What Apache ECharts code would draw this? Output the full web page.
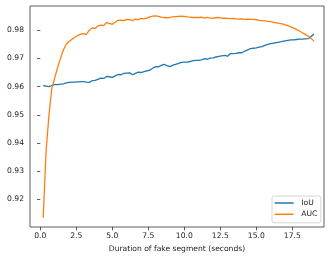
<!DOCTYPE html>
<html>
<head>
<meta charset="utf-8">
<script src="https://cdn.jsdelivr.net/npm/echarts@6/dist/echarts.min.js"></script>
<style>html,body{margin:0;padding:0;background:#fff}#c{width:332px;height:258px}</style>
</head>
<body>
<div id="c"></div>
<script>
const durations = [0.2,0.4,0.6,0.8,1.0,1.2,1.4,1.6,1.8,2.0,2.2,2.4,2.6,2.8,3.0,3.2,3.4,3.6,3.8,4.0,
4.2,4.4,4.6,4.8,5.0,5.2,5.4,5.6,5.8,6.0,6.2,6.4,6.6,6.8,7.0,7.2,7.4,7.6,7.8,8.0,
8.2,8.4,8.6,8.8,9.0,9.2,9.4,9.6,9.8,10.0,10.2,10.4,10.6,10.8,11.0,11.2,11.4,11.6,11.8,12.0,
12.2,12.4,12.6,12.8,13.0,13.2,13.4,13.6,13.8,14.0,14.2,14.4,14.6,14.8,15.0,15.2,15.4,15.6,15.8,16.0,
16.2,16.4,16.6,16.8,17.0,17.2,17.4,17.6,17.8,18.0,18.2,18.4,18.6,18.8,19.0];
const iou = [0.9604,0.9602,0.9600,0.9604,0.9607,0.9607,0.9609,0.9610,0.9613,0.9615,
0.9616,0.9616,0.9617,0.9618,0.9618,0.9616,0.9615,0.9621,0.9622,0.9626,
0.9630,0.9629,0.9636,0.9635,0.9633,0.9638,0.9643,0.9642,0.9647,0.9648,
0.9649,0.9642,0.9647,0.9651,0.9650,0.9653,0.9656,0.9658,0.9665,0.9671,
0.9670,0.9675,0.9679,0.9674,0.9671,0.9676,0.9679,0.9682,0.9686,0.9687,
0.9687,0.9689,0.9692,0.9693,0.9693,0.9695,0.9699,0.9697,0.9701,0.9702,
0.9705,0.9707,0.9709,0.9711,0.9708,0.9717,0.9717,0.9718,0.9720,0.9720,
0.9726,0.9730,0.9735,0.9736,0.9737,0.9740,0.9742,0.9746,0.9750,0.9752,
0.9754,0.9756,0.9758,0.9760,0.9762,0.9764,0.9766,0.9766,0.9767,0.9768,
0.9768,0.9769,0.9770,0.9778,0.9786];
const auc = [0.9135,0.9370,0.9500,0.9595,0.9630,0.9668,0.9700,0.9730,0.9750,0.9760,
0.9768,0.9775,0.9781,0.9786,0.9788,0.9785,0.9800,0.9808,0.9806,0.9815,
0.9818,0.9816,0.9827,0.9824,0.9821,0.9828,0.9835,0.9836,0.9834,0.9838,
0.9837,0.9834,0.9839,0.9837,0.9842,0.9840,0.9843,0.9847,0.9850,0.9851,
0.9849,0.9846,0.9845,0.9844,0.9845,0.9847,0.9848,0.9849,0.9850,0.9849,
0.9847,0.9846,0.9845,0.9845,0.9845,0.9846,0.9843,0.9845,0.9843,0.9843,
0.9844,0.9845,0.9842,0.9843,0.9842,0.9841,0.9842,0.9840,0.9839,0.9840,
0.9838,0.9839,0.9838,0.9838,0.9837,0.9835,0.9834,0.9833,0.9831,0.9830,
0.9828,0.9826,0.9824,0.9822,0.9819,0.9816,0.9812,0.9807,0.9802,0.9797,
0.9791,0.9785,0.9779,0.9771,0.9762];
const xTicks = [0, 2.5, 5, 7.5, 10, 12.5, 15, 17.5];
const yTicks = [0.92, 0.93, 0.94, 0.95, 0.96, 0.97, 0.98];

const font = 'DejaVu Sans';
const fs = 7.6;
const chart = echarts.init(document.getElementById('c'), null, {renderer: 'canvas'});
chart.setOption({
  animation: false,
  backgroundColor: '#fff',
  grid: {left: 30, right: 8, top: 6, bottom: 31, show: true, borderColor: '#333', borderWidth: 0.8, backgroundColor: 'transparent'},
  xAxis: {
    type: 'value', min: -0.716, max: 19.7,
    name: 'Duration of fake segment (seconds)', nameLocation: 'middle', nameGap: 16,
    nameTextStyle: {fontFamily: font, fontSize: fs, color: '#222'},
    axisLine: {show: false},
    splitLine: {show: false},
    axisTick: {show: true, inside: false, length: 3.3, lineStyle: {color: '#333', width: 0.8}, customValues: xTicks},
    axisLabel: {customValues: xTicks, margin: 5, fontFamily: font, fontSize: fs, color: '#222', formatter: v => v.toFixed(1)}
  },
  yAxis: {
    type: 'value', min: 0.91025, max: 0.98857,
    axisLine: {show: false},
    splitLine: {show: false},
    axisTick: {show: true, inside: false, length: 3.3, lineStyle: {color: '#333', width: 0.8}, customValues: yTicks},
    axisLabel: {customValues: yTicks, margin: 6, fontFamily: font, fontSize: fs, color: '#222', formatter: v => v.toFixed(2)}
  },
  legend: {
    orient: 'vertical', left: 272, top: 196,
    padding: [2.5, 3.5, 4, 2.7],
    itemWidth: 19, itemHeight: 1.5, itemGap: 2.3,
    icon: 'rect',
    backgroundColor: '#fff', borderColor: '#ccc', borderWidth: 0.8, borderRadius: 2,
    textStyle: {fontFamily: font, fontSize: fs, color: '#222', lineHeight: 9, padding: [0, 0, 0, 2.6]},
    data: ['IoU', 'AUC']
  },
  series: [
    {name: 'IoU', type: 'line', showSymbol: false, symbol: 'none', data: durations.map((d, i) => [d, iou[i]]),
     lineStyle: {color: '#1f77b4', width: 1.3}, itemStyle: {color: '#1f77b4'}},
    {name: 'AUC', type: 'line', showSymbol: false, symbol: 'none', data: durations.map((d, i) => [d, auc[i]]),
     lineStyle: {color: '#ff7f0e', width: 1.3}, itemStyle: {color: '#ff7f0e'}}
  ]
});
</script>
</body>
</html>
